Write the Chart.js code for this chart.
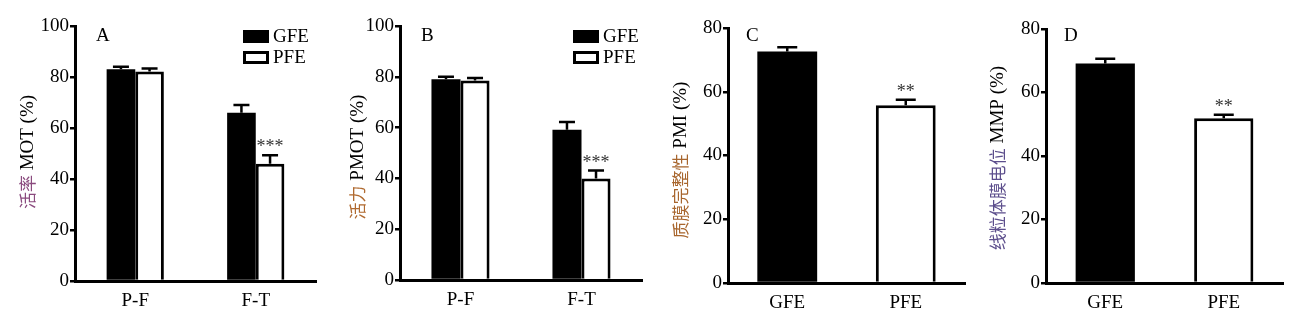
<!DOCTYPE html>
<html>
<head>
<meta charset="utf-8">
<script src="https://cdn.jsdelivr.net/npm/chart.js@4/dist/chart.umd.min.js"></script>
<style>
  html, body { margin: 0; padding: 0; background: #fff; }
  body { width: 1308px; height: 324px; position: relative; overflow: hidden; }
  canvas { position: absolute; top: 0; }
</style>
</head>
<body>
<canvas id="panelA" width="330" height="324" style="left:0px"></canvas>
<canvas id="panelB" width="325" height="324" style="left:330px"></canvas>
<canvas id="panelC" width="325" height="324" style="left:655px"></canvas>
<canvas id="panelD" width="328" height="324" style="left:980px"></canvas>
<script>
// stages for A and B
const stages = ['P-F', 'F-T'];
// groups for C and D
const groups = ['GFE', 'PFE'];

// A: motility MOT (%)
const motGFE = [83.0, 66.0];
const motGFEErr = [1.0, 3.0];
const motPFE = [82.2, 46.0];
const motPFEErr = [1.1, 3.3];
const motPFEStars = ['', '***'];

// B: progressive motility PMOT (%)
const pmotGFE = [79.0, 59.2];
const pmotGFEErr = [1.0, 3.0];
const pmotPFE = [78.5, 40.0];
const pmotPFEErr = [1.0, 3.1];
const pmotPFEStars = ['', '***'];

// C: plasma membrane integrity PMI (%)
const pmiVals = [72.6, 55.8];
const pmiErr = [1.4, 1.7];
const pmiStars = ['', '**'];

// D: mitochondrial membrane potential MMP (%)
const mmpVals = [69.1, 51.9];
const mmpErr = [1.5, 1.1];
const mmpStars = ['', '**'];

const yTicksAB = [0, 20, 40, 60, 80, 100];
const yTicksCD = [0, 20, 40, 60, 80];

const SERIF = '"Liberation Serif", "Times New Roman", serif';
const CJK = '"Noto Sans CJK SC", sans-serif';

// upward error bars plus significance stars over each bar
const errorBars = {
  id: 'errorBars',
  afterDatasetsDraw(chart) {
    const ctx = chart.ctx;
    const y = chart.scales.y;
    const cap = chart.options.plugins.errorBars.cap;
    chart.data.datasets.forEach((ds, di) => {
      const meta = chart.getDatasetMeta(di);
      meta.data.forEach((bar, i) => {
        const top = y.getPixelForValue(ds.data[i] + ds.errors[i]);
        ctx.save();
        ctx.strokeStyle = '#000';
        ctx.lineWidth = 2.5;
        ctx.beginPath();
        ctx.moveTo(bar.x, bar.y);
        ctx.lineTo(bar.x, top);
        ctx.moveTo(bar.x - cap / 2, top);
        ctx.lineTo(bar.x + cap / 2, top);
        ctx.stroke();
        const s = ds.stars && ds.stars[i];
        if (s) {
          ctx.fillStyle = '#333';
          ctx.font = '18px ' + SERIF;
          ctx.textAlign = 'center';
          ctx.textBaseline = 'alphabetic';
          ctx.fillText(s, bar.x, top - 3);
        }
        ctx.restore();
      });
    });
  }
};

// panel letter, legend and two-colour y title
const decor = {
  id: 'decor',
  afterDraw(chart) {
    const o = chart.options.plugins.decor;
    const ctx = chart.ctx;
    const area = chart.chartArea;
    ctx.save();
    ctx.fillStyle = '#000';
    ctx.font = '19px ' + SERIF;
    ctx.textBaseline = 'middle';
    ctx.textAlign = 'left';
    ctx.fillText(o.letter, area.left + o.letterDx, 36);

    if (o.legend) {
      chart.data.datasets.forEach((ds, i) => {
        const bx = o.legend.x, by = o.legend.y + i * 21;
        ctx.fillStyle = ds.backgroundColor;
        ctx.fillRect(bx, by, 26, 13);
        ctx.strokeStyle = '#000';
        ctx.lineWidth = 3;
        ctx.strokeRect(bx + 1.5, by + 1.5, 23, 10);
        ctx.fillStyle = '#000';
        ctx.font = '19px ' + SERIF;
        ctx.fillText(ds.label, bx + 30, by + 7);
      });
    }

    // rotated y-axis title: coloured Chinese part + black Latin part
    ctx.translate(o.titleX, o.titleY);
    ctx.rotate(-Math.PI / 2);
    ctx.textBaseline = 'middle';
    ctx.font = '17px ' + CJK;
    const w1 = ctx.measureText(o.titleCn).width;
    ctx.font = '19px ' + SERIF;
    const w2 = ctx.measureText(o.titleEn).width;
    let x0 = -(w1 + w2) / 2;
    ctx.font = '17px ' + CJK;
    ctx.fillStyle = o.titleColor;
    ctx.fillText(o.titleCn, x0, 0);
    ctx.font = '19px ' + SERIF;
    ctx.fillStyle = '#000';
    ctx.fillText(o.titleEn, x0 + w1, 0);
    ctx.restore();
  }
};

function makePanel(id, cfg) {
  const canvas = document.getElementById(id);
  const H = canvas.height, W = canvas.width;
  return new Chart(canvas, {
    type: 'bar',
    data: { labels: cfg.labels, datasets: cfg.datasets },
    plugins: [errorBars, decor],
    options: {
      responsive: false,
      animation: false,
      devicePixelRatio: 1,
      layout: { padding: { top: cfg.top, right: W - cfg.right, left: 0, bottom: 0 } },
      plugins: {
        legend: { display: false },
        tooltip: { enabled: false },
        errorBars: { cap: cfg.cap },
        decor: cfg.decor
      },
      datasets: { bar: { categoryPercentage: cfg.catPct, barPercentage: 1 } },
      scales: {
        x: {
          grid: { display: false, drawTicks: false },
          border: { display: true, color: '#000', width: 3 },
          ticks: { color: '#000', padding: 9, font: { family: SERIF, size: 19 } },
          afterFit(s) { s.height = H - cfg.bottom; }
        },
        y: {
          min: 0,
          max: cfg.yTicks[cfg.yTicks.length - 1],
          afterBuildTicks(s) { s.ticks = cfg.yTicks.map(v => ({ value: v })); },
          grid: { display: true, drawOnChartArea: false, drawTicks: true, tickLength: 5, color: '#000', lineWidth: 2.5 },
          border: { display: true, color: '#000', width: 3 },
          ticks: { color: '#000', padding: 1, font: { family: SERIF, size: 19 } },
          afterFit(s) { s.width = cfg.left; }
        }
      }
    }
  });
}

function pairSets(gfe, gfeErr, pfe, pfeErr, pfeStars) {
  return [
    { label: 'GFE', data: gfe, errors: gfeErr, backgroundColor: '#000', borderWidth: 0 },
    { label: 'PFE', data: pfe, errors: pfeErr, stars: pfeStars, backgroundColor: '#fff', borderColor: '#000', borderWidth: 3, borderSkipped: 'bottom' }
  ];
}

function singleSet(vals, errs, stars) {
  return [{
    label: '', data: vals, errors: errs, stars: stars,
    backgroundColor: ['#000', '#fff'], borderColor: '#000', borderWidth: [0, 3], borderSkipped: 'bottom'
  }];
}

makePanel('panelA', {
  labels: stages, datasets: pairSets(motGFE, motGFEErr, motPFE, motPFEErr, motPFEStars),
  left: 75, right: 316, top: 26, bottom: 281, catPct: 0.475, cap: 16, yTicks: yTicksAB,
  decor: { letter: 'A', letterDx: 21, legend: { x: 243, y: 30 }, titleX: 28, titleY: 152,
           titleCn: '活率', titleEn: ' MOT (%)', titleColor: '#8a4a7e' }
});

makePanel('panelB', {
  labels: stages, datasets: pairSets(pmotGFE, pmotGFEErr, pmotPFE, pmotPFEErr, pmotPFEStars),
  left: 70, right: 312, top: 26, bottom: 280, catPct: 0.48, cap: 16, yTicks: yTicksAB,
  decor: { letter: 'B', letterDx: 21, legend: { x: 243, y: 30 }, titleX: 28, titleY: 157,
           titleCn: '活力', titleEn: ' PMOT (%)', titleColor: '#b06a30' }
});

makePanel('panelC', {
  labels: groups, datasets: singleSet(pmiVals, pmiErr, pmiStars),
  left: 73, right: 310, top: 28, bottom: 283, catPct: 0.505, cap: 20, yTicks: yTicksCD,
  decor: { letter: 'C', letterDx: 18, titleX: 26, titleY: 160,
           titleCn: '质膜完整性', titleEn: ' PMI (%)', titleColor: '#a8662e' }
});

makePanel('panelD', {
  labels: groups, datasets: singleSet(mmpVals, mmpErr, mmpStars),
  left: 66, right: 303, top: 29, bottom: 283, catPct: 0.5, cap: 20, yTicks: yTicksCD,
  decor: { letter: 'D', letterDx: 18, titleX: 18, titleY: 158,
           titleCn: '线粒体膜电位', titleEn: ' MMP (%)', titleColor: '#5c4e8c' }
});
</script>
</body>
</html>
